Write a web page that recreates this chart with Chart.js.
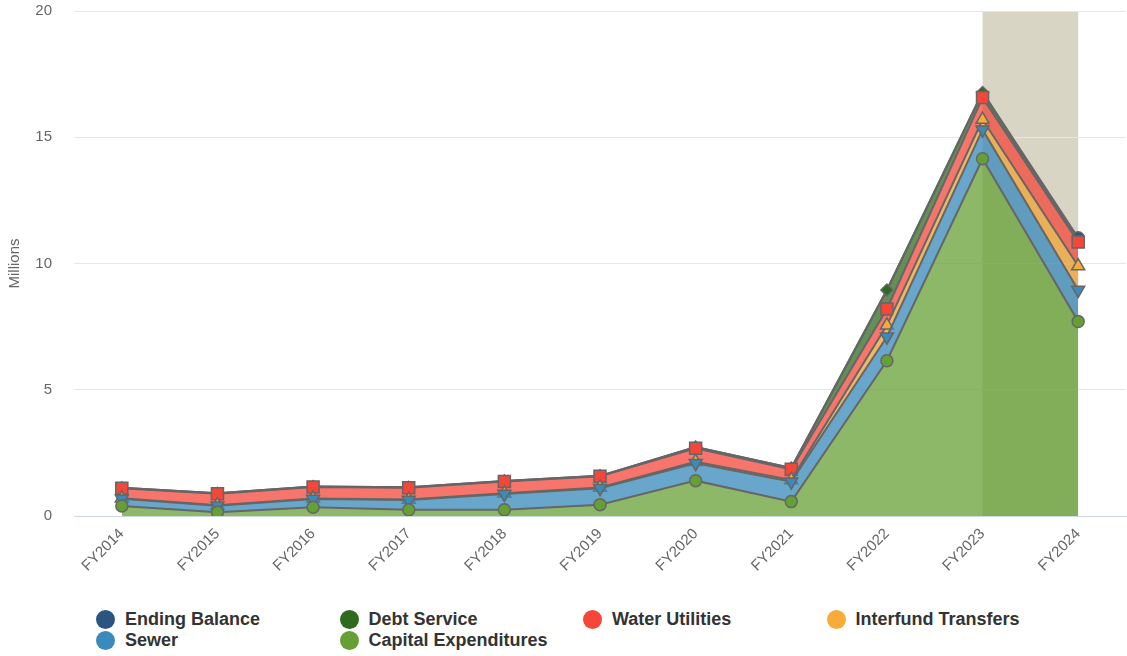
<!DOCTYPE html>
<html>
<head>
<meta charset="utf-8">
<title>Fund chart</title>
<script src="https://cdn.jsdelivr.net/npm/chart.js@4.4.1/dist/chart.umd.min.js"></script>
<style>
    body { margin: 0; background: #fff; font-family: "Liberation Sans", Arial, Helvetica, sans-serif; overflow: hidden; }
    #wrap { position: relative; width: 1127px; height: 600px; overflow: hidden; }
    #legend { position: absolute; left: 0; top: 0; width: 1127px; }
    .item { position: absolute; height: 21px; line-height: 21px; font-size: 18px; font-weight: bold; color: #333; white-space: nowrap; }
    .dot { position: absolute; left: 0; top: 1px; width: 19px; height: 19px; border-radius: 50%; }
    .label { position: absolute; left: 29px; top: 0; }
</style>
</head>
<body>
<div id="wrap"><canvas id="fundChart" width="1136" height="600"></canvas></div>
<div id="legend"></div>
<script>
// Categories (fiscal years)
const years = ['FY2014', 'FY2015', 'FY2016', 'FY2017', 'FY2018', 'FY2019', 'FY2020', 'FY2021', 'FY2022', 'FY2023', 'FY2024'];

// Series values in millions (stacked, bottom to top)
const capitalExpenditures = [0.40, 0.15, 0.35, 0.25, 0.25, 0.45, 1.40, 0.57, 6.15, 14.15, 7.70];
const sewer              = [0.28, 0.26, 0.32, 0.38, 0.62, 0.65, 0.69, 0.79, 0.95, 1.15, 1.25];
const interfundTransfers = [0.02, 0.02, 0.02, 0.02, 0.03, 0.03, 0.06, 0.07, 0.45, 0.40, 0.95];
const waterUtilities     = [0.40, 0.45, 0.46, 0.47, 0.47, 0.44, 0.53, 0.42, 0.65, 0.87, 0.95];
const debtService        = [0.02, 0.02, 0.02, 0.02, 0.02, 0.02, 0.05, 0.05, 0.75, 0.20, 0.02];
const endingBalance      = [0.00, 0.00, 0.00, 0.00, 0.00, 0.00, 0.00, 0.00, 0.00, 0.02, 0.15];

// Y axis ticks
const yTicks = [0, 5, 10, 15, 20];

// Highlighted (projected) range
const bandFrom = 'FY2023';
const bandTo = 'FY2024';

const lineGrey = '#666666';

function series(label, data, color, fillColor, style, extra) {
    return Object.assign({
        label: label,
        data: data,
        borderColor: lineGrey,
        borderWidth: 2,
        backgroundColor: fillColor,
        pointBackgroundColor: color,
        pointBorderColor: lineGrey,
        pointBorderWidth: 1.5,
        pointStyle: style,
        pointRadius: 6,
        tension: 0,
        fill: '-1',
        legendColor: color
    }, extra || {});
}

const datasets = [
    series('Capital Expenditures', capitalExpenditures, '#65a035', 'rgba(101,160,53,0.75)', 'circle', { fill: 'origin' }),
    series('Sewer', sewer, '#3a8bbb', 'rgba(58,139,187,0.77)', 'triangle', { pointRotation: 180, pointRadius: 7.5 }),
    series('Interfund Transfers', interfundTransfers, '#f9ab3a', 'rgba(240,165,60,0.8)', 'triangle', { pointRadius: 7.5 }),
    series('Water Utilities', waterUtilities, '#f4473a', 'rgba(244,71,58,0.75)', 'rect', { pointRadius: 8.5 }),
    series('Debt Service', debtService, '#2e6b1e', 'rgba(46,107,30,0.75)', 'rectRot', { pointRadius: 6 }),
    // markers only where the balance is visible
    series('Ending Balance', endingBalance, '#2b5580', 'rgba(43,85,128,0.75)', 'circle', {
        pointRadius: c => (endingBalance[c.dataIndex] > 0.05 ? 6 : 0)
    })
];

// Beige band behind the last period
const bandPlugin = {
    id: 'band',
    beforeDraw(chart) {
        const x = chart.scales.x;
        const area = chart.chartArea;
        const ctx = chart.ctx;
        const left = x.getPixelForValue(years.indexOf(bandFrom));
        const right = x.getPixelForValue(years.indexOf(bandTo));
        ctx.save();
        ctx.fillStyle = '#d8d5c5';
        ctx.fillRect(left, area.top, right - left, area.bottom - area.top);
        ctx.restore();
    }
};

const fontFamily = '"Liberation Sans", Arial, sans-serif';

const ctx = document.getElementById('fundChart').getContext('2d');
new Chart(ctx, {
    type: 'line',
    data: { labels: years, datasets: datasets },
    options: {
        responsive: false,
        animation: false,
        layout: { padding: { top: 10, right: 1, left: 0, bottom: 0 } },
        scales: {
            x: {
                offset: true,
                grid: { display: true, drawOnChartArea: false, drawTicks: true, tickLength: 9, tickColor: 'rgba(0,0,0,0)' },
                border: { display: true, color: '#ccd6eb', width: 1 },
                ticks: {
                    minRotation: 45,
                    maxRotation: 45,
                    padding: 0,
                    color: '#666',
                    font: { family: fontFamily, size: 15 }
                },
                afterFit(scale) { scale.height = 84; }
            },
            y: {
                stacked: true,
                min: 0,
                max: 20,
                afterBuildTicks(scale) { scale.ticks = yTicks.map(v => ({ value: v })); },
                grid: { color: '#e6e6e6', drawTicks: true, tickLength: 20, tickColor: 'rgba(0,0,0,0)' },
                border: { display: false },
                ticks: {
                    padding: 2,
                    color: '#666',
                    font: { family: fontFamily, size: 15 }
                },
                title: {
                    display: true,
                    text: 'Millions',
                    color: '#666',
                    padding: { top: 6, bottom: 0 },
                    font: { family: fontFamily, size: 15 }
                },
                afterFit(scale) { scale.width = 74; }
            }
        },
        plugins: {
            legend: { display: false },
            tooltip: { enabled: false }
        }
    },
    plugins: [bandPlugin]
});

// HTML legend, four columns
const legendOrder = ['Ending Balance', 'Debt Service', 'Water Utilities', 'Interfund Transfers', 'Sewer', 'Capital Expenditures'];
const legend = document.getElementById('legend');
legendOrder.forEach((name, i) => {
    const ds = datasets.find(d => d.label === name);
    const item = document.createElement('div');
    item.className = 'item';
    item.style.left = (96 + (i % 4) * 243.5) + 'px';
    item.style.top = (609 + Math.floor(i / 4) * 21) + 'px';
    item.innerHTML = `<span class="dot" style="background:${ds.legendColor}"></span><span class="label">${name}</span>`;
    legend.appendChild(item);
});
</script>
</body>
</html>
